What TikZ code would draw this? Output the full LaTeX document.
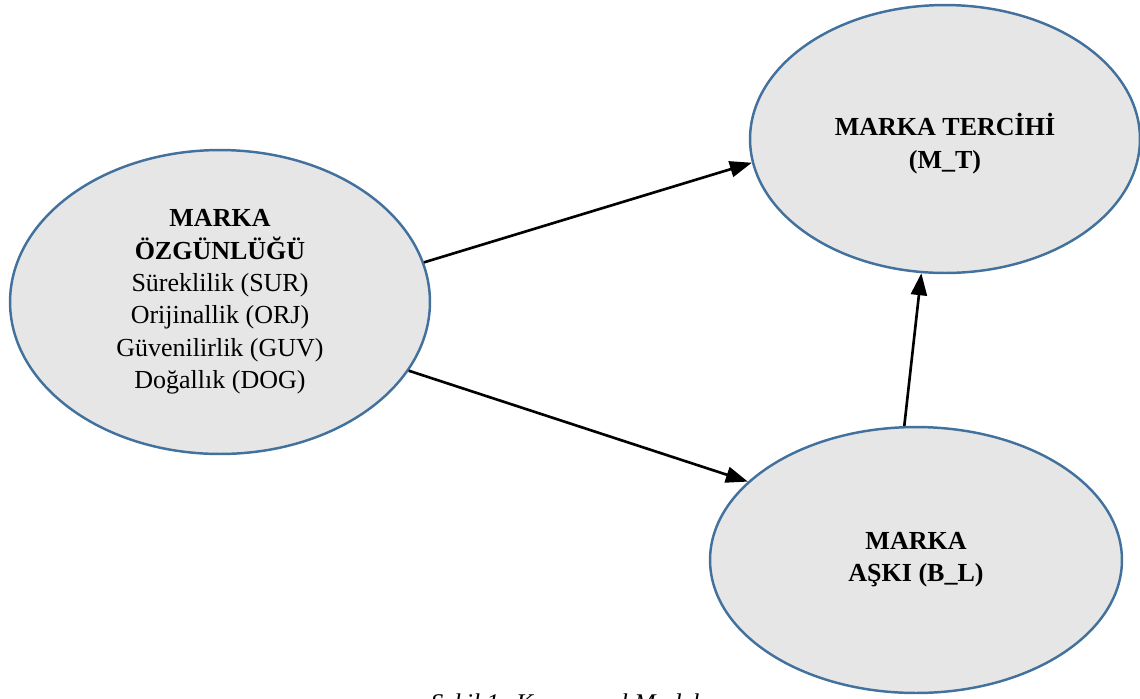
\documentclass[tikz,border=0pt]{standalone}
\usepackage{fontspec}
\setmainfont{Liberation Serif}
\usetikzlibrary{shapes.geometric,arrows.meta}
\definecolor{ellfill}{HTML}{E6E6E6}
\definecolor{elldraw}{HTML}{41719C}
\tikzset{
  ellnode/.style={ellipse, draw=elldraw, fill=ellfill, line width=1.4pt, inner sep=0pt, align=center, font=\fontsize{14.8}{18.4}\selectfont},
  conn/.style={line width=1.5pt, -{Triangle[length=0.44cm,width=0.32cm]}}
}
\begin{document}
\begin{tikzpicture}[x=0.02cm,y=-0.02cm]
\useasboundingbox (0,0) rectangle (1140,698);
\node[ellnode, minimum width=8.4cm, minimum height=6.08cm] (L) at (220,302)
  {\textbf{MARKA}\\\textbf{ÖZGÜNLÜĞÜ}\\Süreklilik (SUR)\\Orijinallik (ORJ)\\Güvenilirlik (GUV)\\Doğallık (DOG)};
\node[ellnode, minimum width=7.8cm, minimum height=5.36cm] (T) at (945,139)
  {\rule{0pt}{0.63cm}\textbf{MARKA TERCİHİ}\\\textbf{(M\_T)}};
\node[ellnode, minimum width=8.24cm, minimum height=5.32cm] (B) at (916,560)
  {\textbf{MARKA}\\\textbf{AŞKI (B\_L)}};
\draw[conn] (L.11.5) -- (T.187.7);
\draw[conn] (L.340.5) -- (B.155.7);
\draw[conn] (B.95.6) -- (T.260.2);
\node[anchor=base, font=\fontsize{14.5}{18}\selectfont\itshape] (cap) at (565,711) {Şekil 1: Kavramsal Model};
\end{tikzpicture}
\end{document}
